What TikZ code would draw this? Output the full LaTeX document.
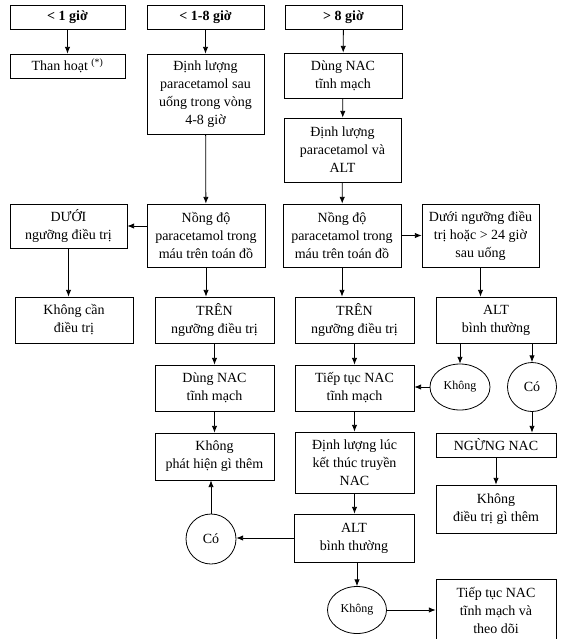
\documentclass[tikz,border=0pt]{standalone}
\usepackage{fontspec}
\setmainfont{Liberation Serif}
\usetikzlibrary{
    arrows.meta,
    shapes,
    calc,
    positioning
}

\begin{document}
\begin{tikzpicture}[x=0.75pt, y=-0.75pt,
        sz/.style 2 args={minimum width=#1*0.75pt, minimum height=#2*0.75pt},
        box/.style={draw, line width=0.6pt, align=center, inner sep=1pt,
            font=\fontsize{10.5}{13.5}\selectfont},
        oval/.style={draw, ellipse, line width=0.6pt, inner sep=0pt,
            font=\fontsize{10.5}{13.5}\selectfont},
        arr/.style={line width=0.6pt, -{Latex[length=5pt, width=4pt]}}]
    \useasboundingbox (0, 0) rectangle (567, 639);

    % first row
    \node[box, sz={115}{24}] (lt1) at (67.5, 17) {\textbf{< 1 giờ}};
    \node[box, sz={117}{24}] (h18) at (205.5, 17) {\textbf{< 1-8 giờ}};
    \node[box, sz={117}{24}] (gt8) at (343.5, 17) {\textbf{> 8 giờ}};

    \node[box, sz={115}{24}] (than) at (67.5, 66) {Than hoạt \textsuperscript{(*)}};
    \node[box, sz={117}{80}] (dl48) at (205.5, 94) {Định lượng\\paracetamol sau\\uống trong vòng\\4-8 giờ};
    \node[box, sz={118}{45}] (nacA) at (343, 75.5) {Dùng NAC\\tĩnh mạch};
    \node[box, sz={117}{64}] (dlalt) at (342.5, 150) {Định lượng\\paracetamol và\\ALT};

    % chart
    \node[box, sz={117}{44}] (duoi) at (68.5, 226) {DƯỚI\\ngưỡng điều trị};
    \node[box, sz={118}{63}] (ndA) at (206, 235.5) {Nồng độ\\paracetamol trong\\máu trên toán đồ};
    \node[box, sz={118}{63}] (ndB) at (342, 235.5) {Nồng độ\\paracetamol trong\\máu trên toán đồ};
    \node[box, sz={117}{63}] (duoi24) at (480.5, 235.5) {Dưới ngưỡng điều\\trị hoặc > 24 giờ\\sau uống};

    \node[box, sz={118}{46}] (kcan) at (74, 320) {Không cần\\điều trị};
    \node[box, sz={119}{46}] (trenA) at (214.5, 320) {TRÊN\\ngưỡng điều trị};
    \node[box, sz={119}{46}] (trenB) at (354.5, 320) {TRÊN\\ngưỡng điều trị};
    \node[box, sz={120}{46}] (altA) at (496, 320) {ALT\\bình thường};

    \node[box, sz={119}{46}] (nacB) at (214.5, 388) {Dùng NAC\\tĩnh mạch};
    \node[box, sz={119}{46}] (tiepA) at (354.5, 388) {Tiếp tục NAC\\tĩnh mạch};
    \node[oval, sz={60}{46}, font=\fontsize{9}{11}\selectfont] (khongA) at (460, 387) {Không};
    \node[oval, sz={49}{49}] (coA) at (532, 387) {Có};

    \node[box, sz={120}{24}] (ngung) at (496, 445) {NGỪNG NAC};
    \node[box, sz={119}{47}] (kphat) at (214.5, 456.5) {Không\\phát hiện gì thêm};
    \node[box, sz={119}{61}] (dlluc) at (354.5, 462.5) {Định lượng lúc\\kết thúc truyền\\NAC};
    \node[box, sz={120}{48}] (kdt) at (496, 509) {Không\\điều trị gì thêm};

    \node[oval, sz={50}{50}] (coB) at (211, 539) {Có};
    \node[box, sz={120}{48}] (altB) at (354, 538) {ALT\\bình thường};
    \node[oval, sz={59}{47}, font=\fontsize{9}{11}\selectfont] (khongB) at (357, 610) {Không};
    \node[box, sz={120}{62}] (tiepB) at (496, 610) {Tiếp tục NAC\\tĩnh mạch và\\theo dõi};

    \draw
    (lt1) edge[arr] (than)
    (h18) edge[arr] (dl48)
    (gt8) edge[arr] (nacA)
    (nacA) edge[arr] (dlalt)
    (dl48) edge[arr] (ndA)
    (dlalt) edge[arr] (ndB)
    (ndA.west |- duoi) edge[arr] (duoi.east)
    (ndB) edge[arr] (duoi24)
    (duoi.south) edge[arr] (duoi.south |- kcan.north)
    (ndA.south) edge[arr] (ndA.south |- trenA.north)
    (ndB.south) edge[arr] (ndB.south |- trenB.north)
    (duoi24.south) edge[arr] (duoi24.south |- altA.north)
    (trenA) edge[arr] (nacB)
    (nacB) edge[arr] (kphat)
    (trenB) edge[arr] (tiepA)
    (tiepA) edge[arr] (dlluc)
    (dlluc.south) edge[arr] (dlluc.south |- altB.north)
    (khongA.north |- altA.south) edge[arr] (khongA.north)
    (coA.north |- altA.south) edge[arr] (coA.north)
    (khongA.west) edge[arr] (khongA.west -| tiepA.east)
    (coA.south) edge[arr] (coA.south |- ngung.north)
    (ngung) edge[arr] (kdt)
    (altB.west) edge[arr] (altB.west -| coB.east)
    (coB.north) edge[arr] (coB.north |- kphat.south)
    (altB.south -| khongB.north) edge[arr] (khongB.north)
    (khongB) edge[arr] (tiepB);
\end{tikzpicture}
\end{document}
